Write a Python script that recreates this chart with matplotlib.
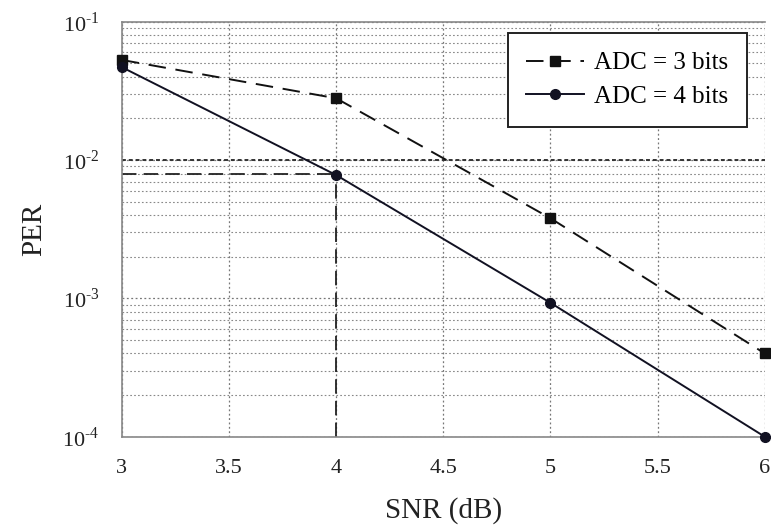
import matplotlib
matplotlib.use("Agg")
import matplotlib.pyplot as plt
from matplotlib.ticker import LogLocator, NullFormatter, FixedLocator, FixedFormatter

snr = [3, 4, 5, 6]
per_3bits = [0.053, 0.028, 0.0038, 0.0004]
per_4bits = [0.047, 0.0078, 0.00093, 0.0001]
target_per = 0.01
ref_snr = 4
ref_per = 0.0079
y_ticks = [1e-4, 1e-3, 1e-2, 1e-1]
y_ticklabels = [r'$10^{\text{-}4}$', r'$10^{\text{-}3}$', r'$10^{\text{-}2}$', r'$10^{\text{-}1}$']
x_ticks = [3, 3.5, 4, 4.5, 5, 5.5, 6]
x_ticklabels = ['3', '3.5', '4', '4.5', '5', '5.5', '6']

plt.rcParams['font.family'] = ['Liberation Serif', 'DejaVu Serif']
plt.rcParams['mathtext.fontset'] = 'custom'
plt.rcParams['mathtext.rm'] = 'Liberation Serif'
plt.rcParams['axes.unicode_minus'] = False

fig = plt.figure(figsize=(7.71, 5.32), dpi=100)
ax = fig.add_axes([0.158, 0.179, 0.834, 0.78])

ax.set_yscale('log')
ax.set_xlim(3, 6)
ax.set_ylim(1e-4, 1e-1)

ax.yaxis.set_major_locator(FixedLocator(y_ticks))
ax.yaxis.set_major_formatter(FixedFormatter(y_ticklabels))
ax.yaxis.set_minor_locator(LogLocator(base=10, subs=range(2, 10), numticks=20))
ax.yaxis.set_minor_formatter(NullFormatter())
ax.set_xticks(x_ticks)
ax.set_xticklabels(x_ticklabels)

ax.grid(True, which='major', axis='both', color='#777777', linestyle=(0, (1.5, 2)), linewidth=0.9)
ax.grid(True, which='minor', axis='y', color='#888888', linestyle=(0, (1.5, 2)), linewidth=0.8)

# reference lines
ax.axhline(target_per, color='#333333', linestyle=(0, (2, 1.5)), linewidth=1.4, zorder=2)
ax.plot([3, ref_snr], [ref_per, ref_per], color='#222222', linestyle=(0, (8, 4)), linewidth=1.3, zorder=2)
ax.plot([ref_snr, ref_snr], [1e-4, ref_per], color='#222222', linestyle=(0, (8, 4)), linewidth=1.3, zorder=2)

ax.plot(snr, per_3bits, color='#111111', linestyle=(0, (9, 5)), linewidth=1.4,
        marker='s', markersize=7, label='ADC = 3 bits', zorder=3, clip_on=False)
ax.plot(snr, per_4bits, color='#111122', linestyle='-', linewidth=1.4,
        marker='o', markersize=7, label='ADC = 4 bits', zorder=3, clip_on=False)

for s in ['left', 'bottom', 'top']:
    ax.spines[s].set_color('#888888')
    ax.spines[s].set_linewidth(1.2)
ax.spines['right'].set_visible(False)

ax.tick_params(axis='both', which='both', length=0, labelsize=16, colors='#222222')
ax.tick_params(axis='x', pad=16)
ax.tick_params(axis='y', pad=16)

ax.set_xlabel('SNR (dB)', fontsize=21, labelpad=14, color='#222222')
ax.set_ylabel('PER', fontsize=21, labelpad=11, color='#222222')

leg = ax.legend(loc='upper right', bbox_to_anchor=(0.972, 0.973), borderaxespad=0, fontsize=18,
                frameon=True, fancybox=False, edgecolor='#222222', framealpha=1,
                handlelength=2.3, borderpad=0.75, labelspacing=0.45, handletextpad=0.4)
leg.get_frame().set_linewidth(1.4)

fig.savefig('out.png', dpi=100)
